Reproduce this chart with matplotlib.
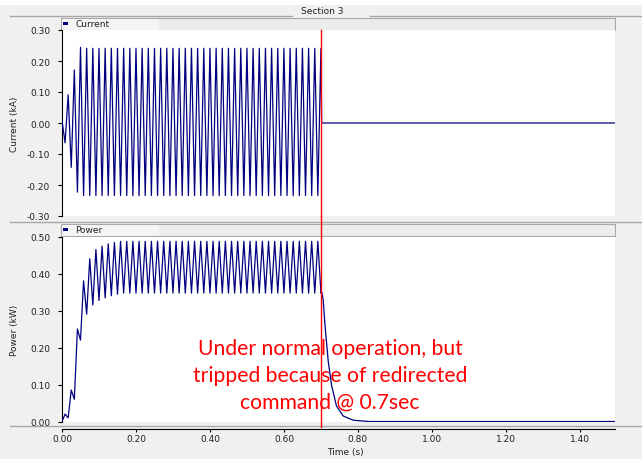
import numpy as np
import matplotlib.pyplot as plt
from matplotlib.patches import Rectangle

plt.rcParams['axes.unicode_minus'] = False

# --- data ---
f_line = 60.0        # Hz
trip_t = 0.7         # s, breaker trip

# current extremes, kA: positive peaks (one per cycle) and negative peaks
cur_pos = [0.008, 0.091, 0.171, 0.244] + [0.241] * 39
cur_neg = [-0.064, -0.143, -0.223] + [-0.234] * 39
cur_tail_t = [0.702, 1.5]
cur_tail = [0.0, 0.0]

# power extremes, kW: lower and upper swing of the ripple
pow_low = [0.0, 0.01, 0.06, 0.22, 0.29, 0.315, 0.327, 0.334, 0.34, 0.344] + [0.347] * 33
pow_high = [0.02, 0.085, 0.25, 0.38, 0.44, 0.465, 0.474, 0.48, 0.484] + [0.487] * 33
pow_tail_t = [0.702, 0.706, 0.711, 0.72, 0.729, 0.742, 0.76, 0.787, 0.83, 1.5]
pow_tail = [0.35, 0.33, 0.26, 0.16, 0.097, 0.042, 0.015, 0.0035, 0.0, 0.0]

xticks = [0.0, 0.2, 0.4, 0.6, 0.8, 1.0, 1.2, 1.4]
cur_ticks = [-0.3, -0.2, -0.1, 0.0, 0.1, 0.2, 0.3]
pow_ticks = [0.0, 0.1, 0.2, 0.3, 0.4, 0.5]

note = "Under normal operation, but\ntripped because of redirected\ncommand @ 0.7sec"


def half_cycles(even_vals, odd_vals):
    n = len(even_vals) + len(odd_vals)
    t = np.arange(n) / (2 * f_line)
    y = np.empty(n)
    y[0::2] = even_vals
    y[1::2] = odd_vals
    return t, y


t_i, i_vals = half_cycles(cur_pos, cur_neg)
t_p, p_vals = half_cycles(pow_low, pow_high)
t_i = np.concatenate([t_i, cur_tail_t])
i_vals = np.concatenate([i_vals, cur_tail])
t_p = np.concatenate([t_p, pow_tail_t])
p_vals = np.concatenate([p_vals, pow_tail])

# --- figure ---
W, H = 642, 460
fig = plt.figure(figsize=(W / 100, H / 100), dpi=100, facecolor='#f0f0f0')
small = dict(family='DejaVu Sans', fontsize=6.5, color='#202020')
navy = '#000080'
frame = '#a8a8a8'

# panel furniture drawn in pixel coordinates
bg = fig.add_axes([0, 0, 1, 1], zorder=0)
bg.set_xlim(0, W)
bg.set_ylim(H, 0)
bg.axis('off')
bg.add_patch(Rectangle((0, 0), W, 6, color='white', lw=0))
bg.plot([10, 292], [17, 17], color=frame, lw=1)
bg.plot([370, W], [17, 17], color=frame, lw=1)
bg.text(322, 11.5, "Section 3", ha='center', va='center', **small)
bg.plot([10, W], [223, 223], color=frame, lw=1)
bg.plot([10, W], [427, 427], color=frame, lw=1)

for y0, name in [(19, "Current"), (225, "Power")]:
    bg.add_patch(Rectangle((61, y0), 554, 12, facecolor='#ececec', edgecolor=frame, lw=0.8))
    bg.add_patch(Rectangle((61.5, y0 + 0.5), 97, 11, facecolor='#f4f4f4', lw=0))
    bg.add_patch(Rectangle((63, y0 + 3.5), 5, 3.5, color=navy, lw=0))
    bg.text(75, y0 + 5.5, name, ha='left', va='center', **small)

left, width = 62 / W, 553 / W
ax1 = fig.add_axes([left, 1 - 217 / H, width, 186 / H], zorder=2)
ax2 = fig.add_axes([left, 1 - 422.5 / H, width, 185 / H], zorder=2)

ax1.plot(t_i, i_vals, color=navy, lw=0.9, zorder=3)
ax2.plot(t_p, p_vals, color=navy, lw=0.9, zorder=3)

ax1.set_ylim(-0.3, 0.3)
ax1.set_yticks(cur_ticks)
ax2.set_ylim(0, 0.5)
ax2.set_yticks(pow_ticks)

for ax in (ax1, ax2):
    ax.set_xlim(0, 1.495)
    ax.set_facecolor('white')
    for s in ('top', 'right'):
        ax.spines[s].set_visible(False)
    ax.spines['left'].set_linewidth(0.8)
    ax.yaxis.set_major_formatter(plt.FormatStrFormatter('%.2f'))
    ax.tick_params(axis='y', length=3, width=0.8, pad=5.5, labelsize=6.5, labelcolor='#202020')
    for lab in ax.get_yticklabels():
        lab.set_family('DejaVu Sans')

ax1.spines['bottom'].set_visible(False)
ax1.set_xticks([])

ax2.spines['bottom'].set_position(('outward', 5.4))
ax2.spines['bottom'].set_linewidth(0.8)
ax2.set_xticks(xticks)
ax2.xaxis.set_major_formatter(plt.FormatStrFormatter('%.2f'))
ax2.tick_params(axis='x', length=2, width=0.8, pad=1.5, labelsize=6.5, labelcolor='#202020')
for lab in ax2.get_xticklabels():
    lab.set_family('DejaVu Sans')

ax1.set_ylabel("Current (kA)", **small)
ax2.set_ylabel("Power (kW)", **small)
ax1.yaxis.set_label_coords(-(62 - 19) / 553, 0.5)
ax2.yaxis.set_label_coords(-(62 - 19) / 553, 0.5)
fig.text(345 / W, 1 - 452.5 / H, "Time (s)", ha='center', va='center', **small)

# trip marker through both panels
ax1.axvline(trip_t, ymin=0, ymax=1, color='red', lw=1, clip_on=False, zorder=5)
ax2.axvline(trip_t, ymin=-0.03, ymax=1.11, color='red', lw=1, clip_on=False, zorder=5)

# note: x in seconds, y as a fraction of the power panel height (under the curve)
ax2.text(0.725, 0.252, note, ha='center', va='center', color='red',
         family='Lato', fontsize=15.2, linespacing=1.42, zorder=2,
         transform=ax2.get_xaxis_transform())

fig.savefig("out.png", dpi=100, facecolor=fig.get_facecolor())
